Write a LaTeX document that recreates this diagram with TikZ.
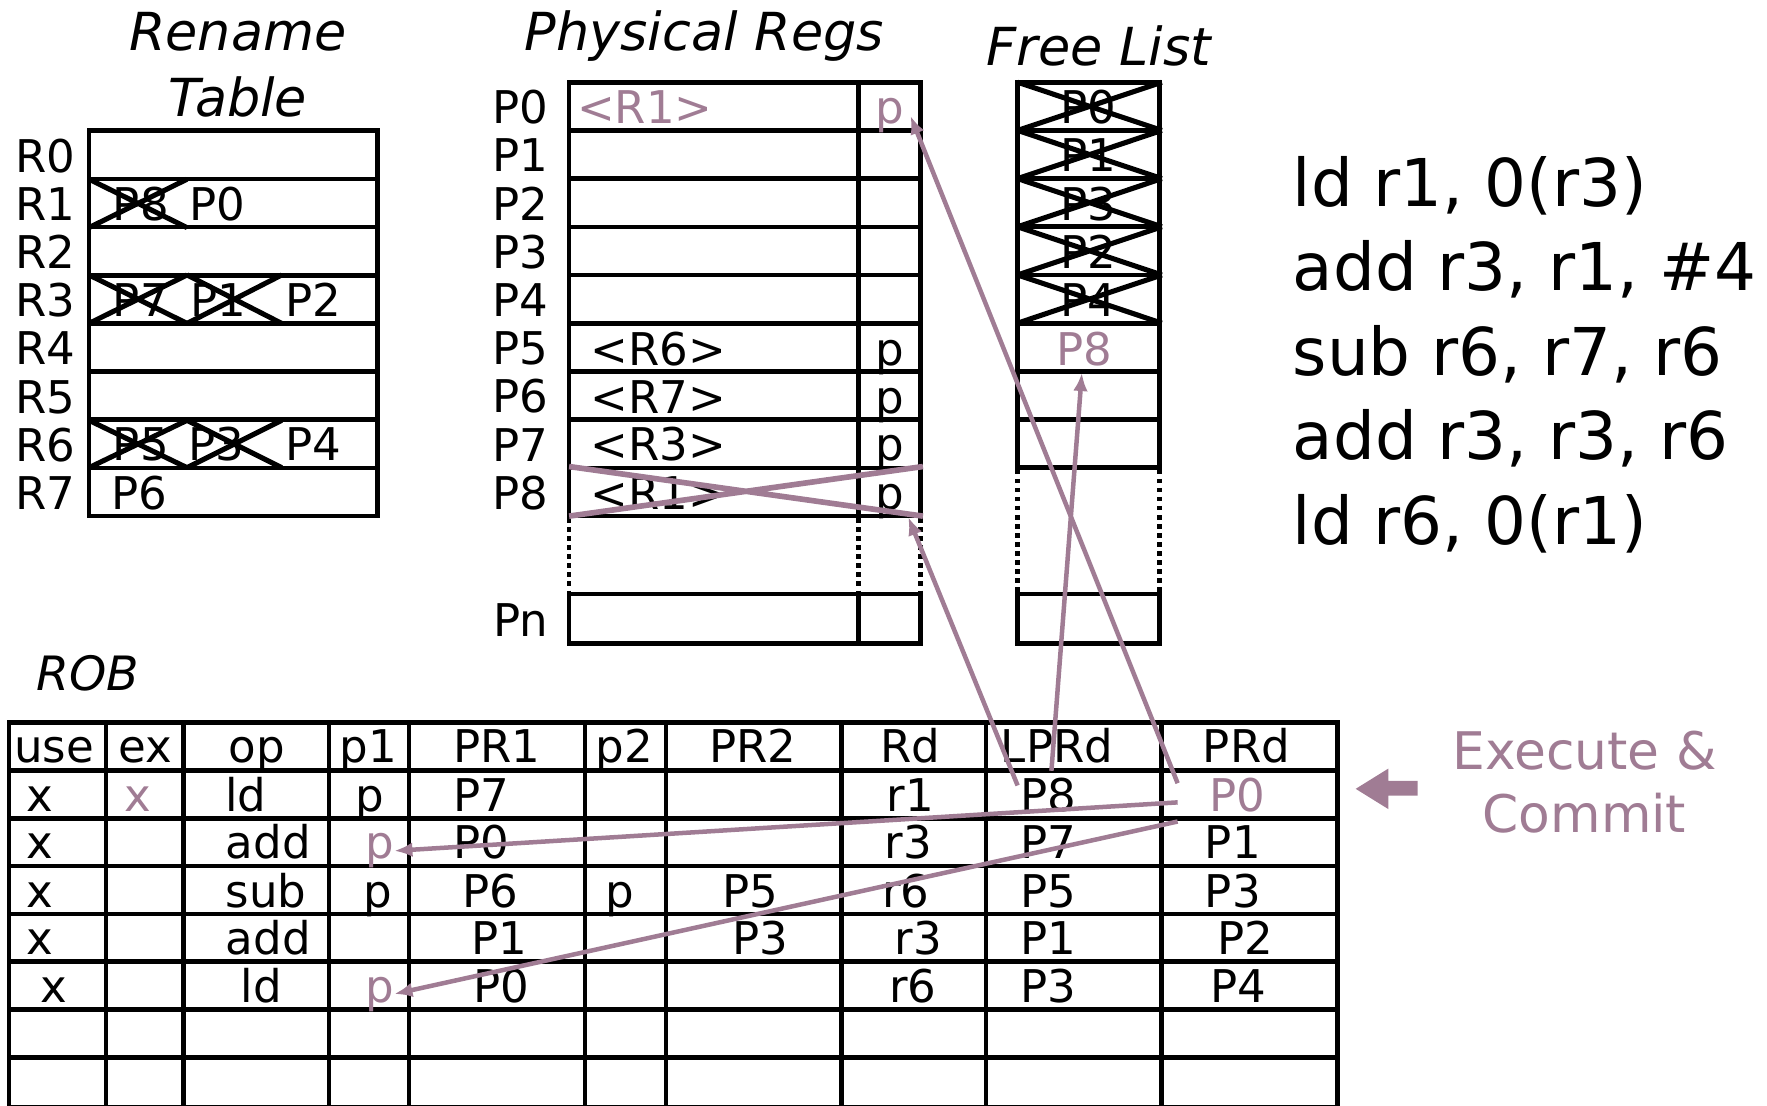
\documentclass[tikz,border=0pt]{standalone}
\usepackage{fontspec}
\setmainfont{DejaVu Sans}
\usetikzlibrary{arrows.meta}
\definecolor{mauve}{RGB}{160,124,148}
\begin{document}
\begin{tikzpicture}[x=1pt,y=-1pt,
  grid/.style={line width=4.2pt},
  txt/.style={inner sep=0pt, anchor=base, font=\fontsize{40}{48}\selectfont},
  ttl/.style={inner sep=0pt, anchor=base, font=\fontsize{46.5}{56}\selectfont\itshape},
  ins/.style={inner sep=0pt, anchor=base west, font=\fontsize{58.5}{70}\selectfont},
  ec/.style={inner sep=0pt, anchor=base, text=mauve, font=\fontsize{46}{56}\selectfont},
  hl/.style={text=mauve},
  xline/.style={line width=4.5pt},
  pline/.style={mauve, line width=5pt},
  parrow/.style={mauve, line width=4pt, -{Latex[length=16pt,width=13pt]}},
  dots/.style={line width=4.2pt, dash pattern=on 4pt off 4pt},
]
\useasboundingbox (0,0) rectangle (1568,981);

% ---------------- Rename table ----------------
\node[ttl] (rtt1) at (211,45) {Rename};
\node[ttl] (rtt2) at (211,103) {Table};
\draw[grid] (79,116) rectangle (335,458);
\foreach \i in {1,...,7} \draw[grid] (79,{116+42.75*\i}) -- (335,{116+42.75*\i});
\foreach \i in {0,...,7} \node[txt] (rl\i) at (40,{116+42.75*(\i+1)-6}) {R\i};
% R1
\node[txt] (r1a) at (125,196) {P8};
\node[txt] (r1b) at (193,196) {P0};
\draw[xline] (79,159) -- (166,202) (79,202) -- (166,159);
% R3
\node[txt] (r3a) at (125,281) {P7};
\node[txt] (r3b) at (194,281) {P1};
\node[txt] (r3c) at (278,281) {P2};
\draw[xline] (79,244) -- (166,287) (79,287) -- (166,244);
\draw[xline] (166,244) -- (250,287) (166,287) -- (250,244);
% R6
\node[txt] (r6a) at (125,409) {P5};
\node[txt] (r6b) at (192,409) {P3};
\node[txt] (r6c) at (278,409) {P4};
\draw[xline] (79,373) -- (166,415) (79,415) -- (166,373);
\draw[xline] (166,373) -- (250,415) (166,415) -- (250,373);
% R7
\node[txt] (r7a) at (124,452) {P6};

% ---------------- Physical regs ----------------
\node[ttl] (ptt) at (625,45) {Physical Regs};
\draw[grid] (505,73) rectangle (817,458);
\foreach \i in {1,...,8} \draw[grid] (505,{73+42.78*\i}) -- (817,{73+42.78*\i});
\draw[grid] (762,73) -- (762,458);
\draw[dots] (505,460) -- (505,527) (762,460) -- (762,527) (817,460) -- (817,527);
\draw[grid] (505,527) rectangle (817,571);
\draw[grid] (762,527) -- (762,571);
\foreach \i in {0,...,8} \node[txt] (pl\i) at (462,{73+42.78*(\i+1)-6}) {P\i};
\node[txt] (pln) at (462,565) {Pn};
\node[txt, hl, anchor=base west] (pv0) at (512,110) {<R1>};
\node[txt, hl] (pp0) at (790,110) {p};
\node[txt, anchor=base west] (pv5) at (524,324) {<R6>};
\node[txt] (pp5) at (790,324) {p};
\node[txt, anchor=base west] (pv6) at (524,367) {<R7>};
\node[txt] (pp6) at (790,367) {p};
\node[txt, anchor=base west] (pv7) at (524,409) {<R3>};
\node[txt] (pp7) at (790,409) {p};
\node[txt, anchor=base west] (pv8) at (524,452) {<R1>};
\node[txt] (pp8) at (790,452) {p};
\draw[pline] (505,414) -- (819,458) (505,458) -- (819,414);

% ---------------- Free list ----------------
\node[ttl] (ftt) at (975,58) {Free List};
\draw[grid] (903,73) rectangle (1029,415);
\foreach \i in {1,...,7} \draw[grid] (903,{73+42.75*\i}) -- (1029,{73+42.75*\i});
\foreach \t [count=\i from 0] in {P0,P1,P3,P2,P4} {
  \node[txt] (fl\i) at (966,{73+42.75*(\i+1)-6}) {\t};
  \draw[xline] (903,{73+42.75*\i}) -- (1031,{73+42.75*(\i+1)})
               (903,{73+42.75*(\i+1)}) -- (1031,{73+42.75*\i});
}
\node[txt, hl] (fl5) at (962,324) {P8};
\draw[dots] (903,417) -- (903,527) (1029,417) -- (1029,527);
\draw[grid] (903,527) rectangle (1029,571);

% ---------------- Instructions ----------------
\node[ins] (i1) at (1147,183) {ld r1, 0(r3)};
\node[ins] (i2) at (1147,258) {add r3, r1, \#4};
\node[ins] (i3) at (1147,333) {sub r6, r7, r6};
\node[ins] (i4) at (1147,408) {add r3, r3, r6};
\node[ins] (i5) at (1147,483) {ld r6, 0(r1)};

% ---------------- ROB ----------------
\node[ttl, anchor=base west, font=\fontsize{42}{50}\selectfont\itshape] (rob) at (32,613) {ROB};
\draw[grid] (8,641) rectangle (1187,983);
\foreach \i in {1,...,7} \draw[grid] (8,{641+42.5*\i}) -- (1187,{641+42.5*\i});
\foreach \x in {94,163,292,363,519,591,747,875,1031} \draw[grid] (\x,641) -- (\x,983);
% header
\node[txt] (huse) at (48,677) {use};
\node[txt] (hex) at (129,677) {ex};
\node[txt] (hop) at (228,677) {op};
\node[txt] (hp1) at (327,677) {p1};
\node[txt] (hpr1) at (441,677) {PR1};
\node[txt] (hp2) at (554,677) {p2};
\node[txt] (hpr2) at (668,677) {PR2};
\node[txt] (hrd) at (808,677) {Rd};
\node[txt] (hlprd) at (938,677) {LPRd};
\node[txt] (hprd) at (1106,677) {PRd};
% row 1
\node[txt] (a1) at (35,720) {x};
\node[txt, hl] (a2) at (122,720) {x};
\node[txt] (a3) at (218,720) {ld};
\node[txt] (a4) at (328,720) {p};
\node[txt] (a5) at (427,720) {P7};
\node[txt] (a8) at (808,720) {r1};
\node[txt] (a9) at (930,720) {P8};
\node[txt, hl] (a10) at (1098,720) {P0};
% row 2
\node[txt] (b1) at (35,762) {x};
\node[txt] (b3) at (238,762) {add};
\node[txt, hl] (b4) at (337,762) {p};
\node[txt] (b5) at (427,762) {P0};
\node[txt] (b8) at (806,762) {r3};
\node[txt] (b9) at (930,762) {P7};
\node[txt] (b10) at (1094,762) {P1};
% row 3
\node[txt] (c1) at (35,805) {x};
\node[txt] (c3) at (236,805) {sub};
\node[txt] (c4) at (335,805) {p};
\node[txt] (c5) at (435,805) {P6};
\node[txt] (c6) at (550,805) {p};
\node[txt] (c7) at (666,805) {P5};
\node[txt] (c8) at (804,805) {r6};
\node[txt] (c9) at (930,805) {P5};
\node[txt] (c10) at (1094,805) {P3};
% row 4
\node[txt] (d1) at (35,847) {x};
\node[txt] (d3) at (238,847) {add};
\node[txt] (d5) at (443,847) {P1};
\node[txt] (d7) at (675,847) {P3};
\node[txt] (d8) at (815,847) {r3};
\node[txt] (d9) at (930,847) {P1};
\node[txt] (d10) at (1105,847) {P2};
% row 5
\node[txt] (e1) at (48,890) {x};
\node[txt] (e3) at (232,890) {ld};
\node[txt, hl] (e4) at (337,890) {p};
\node[txt] (e5) at (445,890) {P0};
\node[txt] (e8) at (810,890) {r6};
\node[txt] (e9) at (930,890) {P3};
\node[txt] (e10) at (1099,890) {P4};

% ---------------- Execute & Commit ----------------
\node[ec] (ec1) at (1406,683) {Execute \&};
\node[ec] (ec2) at (1406,739) {Commit};
\fill[mauve] (1258,693) -- (1232,693) -- (1232,682) -- (1203,700) -- (1232,718) -- (1232,706) -- (1258,706) -- cycle;

% ---------------- Connectors ----------------
\coordinate (s1) at (1045,695);
\coordinate (t1) at (808,103);
\coordinate (s2) at (903,697);
\coordinate (t2) at (806,459);
\coordinate (s3) at (933,684);
\coordinate (t3) at (960,331);
\coordinate (s4) at (1045,712);
\coordinate (t4) at (350,755);
\coordinate (s5) at (1045,729);
\coordinate (t5) at (350,882);
\draw[parrow] (s1) -- (t1);
\draw[parrow] (s2) -- (t2);
\draw[parrow] (s3) -- (t3);
\draw[parrow] (s4) -- (t4);
\draw[parrow] (s5) -- (t5);
\end{tikzpicture}
\end{document}
